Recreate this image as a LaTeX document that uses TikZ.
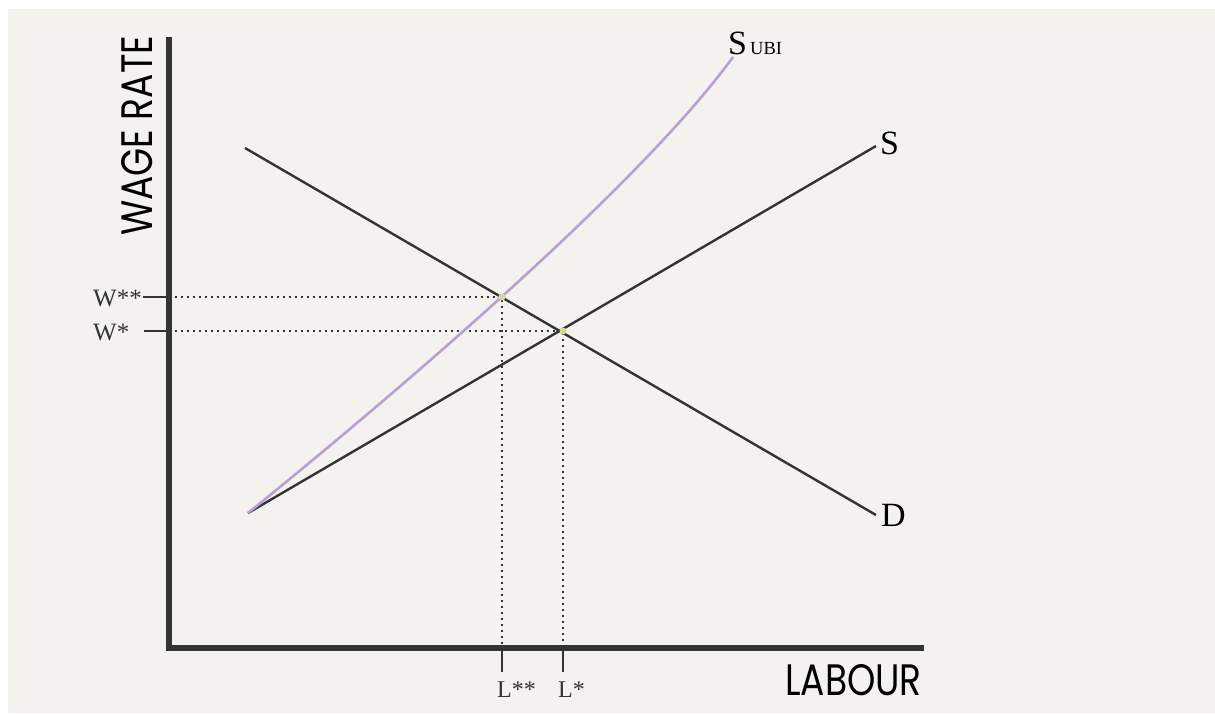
\documentclass[tikz,border=0pt]{standalone}
\usepackage{fontspec}
\setmainfont{Liberation Serif}
\newfontfamily\axisfont[FakeStretch=0.82]{Poppins}
\definecolor{bgc}{HTML}{F3F2EE}
\definecolor{ink}{HTML}{333333}
\definecolor{ubi}{HTML}{B99FD2}
\definecolor{dotc}{HTML}{D5D9A0}
\tikzset{
  axisline/.style={ink, line width=6pt},
  curve/.style={ink, line width=2.4pt},
  guide/.style={ink, line width=1.2pt, dash pattern=on 2.5pt off 3.5pt},
  tickline/.style={ink, line width=1.6pt},
  serif/.style={inner sep=0pt, font=\fontsize{24}{24}\selectfont, text=ink},
  wlabel/.style={inner sep=0pt, font=\fontsize{25}{25}\selectfont, text=ink},
  biglabel/.style={inner sep=0pt, font=\fontsize{34}{34}\selectfont, text=black},
  axislabel/.style={inner sep=0pt, font=\axisfont\fontsize{44}{44}\selectfont, text=black},
  eqdot/.style={circle, fill=dotc, inner sep=0pt, minimum size=7pt}
}
\begin{document}
\begin{tikzpicture}[x=1pt, y=-1pt]
\useasboundingbox (0,0) rectangle (1215,713);
\fill[white] (0,0) rectangle (1215,713);
\fill[bgc] (8,9) rectangle (1215,713);
% key coordinates
\coordinate (O) at (168.5,648);
\coordinate (Ytop) at (168.5,40);
\coordinate (Xend) at (921,648);
\coordinate (E1) at (563,331);
\coordinate (E2) at (502,297);
\coordinate (Dstart) at (245,148);
\coordinate (Dend) at (876,515);
\coordinate (Sstart) at (248,513);
\coordinate (Send) at (876,146);
\coordinate (Uend) at (733,57);
\coordinate (Y1) at (168.5,331);
\coordinate (Y2) at (168.5,297);
\coordinate (X1) at (563,648);
\coordinate (X2) at (502,648);
% guides
\draw[guide] (Y2) -- (E2) -- (X2);
\draw[guide] (Y1) -- (E1) -- (X1);
% ticks
\coordinate (T2) at (143,297);
\coordinate (T1) at (144,331);
\coordinate (B2) at (502,672);
\coordinate (B1) at (563,672);
\draw[tickline] (T2) -- (Y2);
\draw[tickline] (T1) -- (Y1);
\draw[tickline] (X2) -- (B2);
\draw[tickline] (X1) -- (B1);
% curves
\draw[curve] (Dstart) -- (Dend);
\draw[curve] (Sstart) -- (Send);
\draw[ubi, line width=2.6pt] (Sstart) .. controls (400,390) and (640,185) .. (Uend);
% axes
\draw[axisline, line cap=rect] (Ytop) -- (O) -- (Xend);
% dots
\node[eqdot] (e1) at (E1) {};
\node[eqdot] (e2) at (E2) {};
% labels
\node[wlabel, anchor=base west] (w2) at (93,306) {W**};
\node[wlabel, anchor=base west] (w1) at (93,340) {W*};
\node[serif, anchor=base west] (l2) at (497,697) {L**};
\node[serif, anchor=base west] (l1) at (558,697) {L*};
\node[biglabel, anchor=base west] (s) at (880,154) {S};
\node[biglabel, anchor=base west] (d) at (881,526) {D};
\node[biglabel, anchor=base west] (su) at (728,54) {S};
\node[inner sep=0pt, font=\fontsize{18.5}{18.5}\selectfont, anchor=base west] (ubi) at (750,54) {UBI};
\node[axislabel, anchor=base west] (lab) at (785,695) {LABOUR};
\node[axislabel, anchor=base west, rotate=90] (wr) at (152,236) {WAGE RATE};
\end{tikzpicture}
\end{document}
